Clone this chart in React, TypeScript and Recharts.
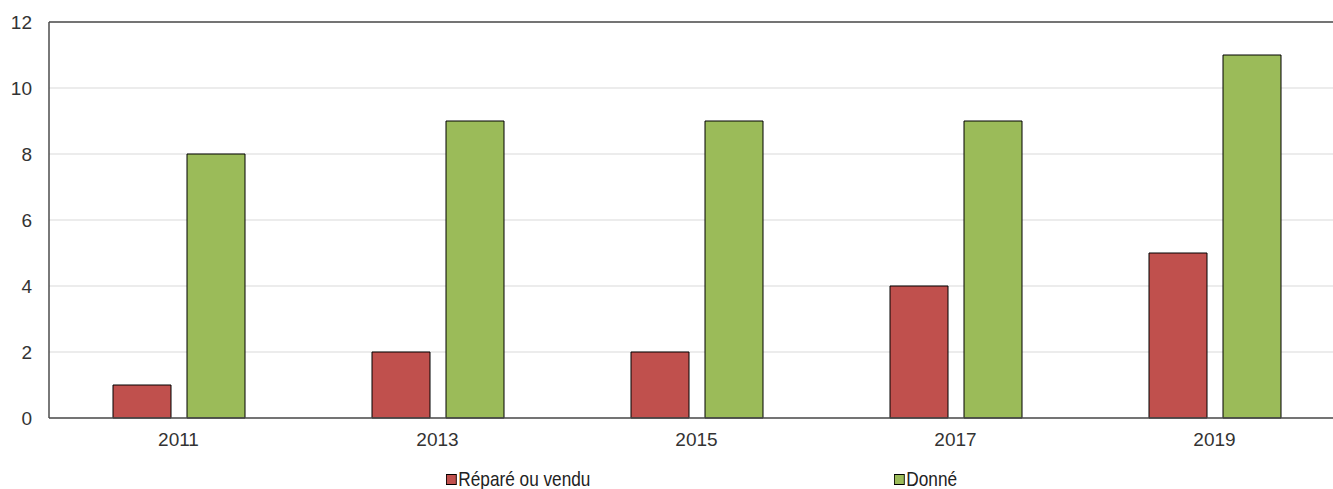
import React from 'react';
import { BarChart, Bar, XAxis, YAxis, CartesianGrid, ReferenceLine } from 'recharts';

const categories = ['2011', '2013', '2015', '2017', '2019'];
const repareOuVendu = [1, 2, 2, 4, 5];
const donne = [8, 9, 9, 9, 11];
const yTicks = [0, 2, 4, 6, 8, 10, 12];
const seriesNames = ['Réparé ou vendu', 'Donné'];
const seriesColors = ['#C0504D', '#9BBB59'];

const data = categories.map((c, i) => ({ year: c, a: repareOuVendu[i], b: donne[i] }));

const AXIS = '#4d4d4d';
const FONT = '"Liberation Sans", Arial, sans-serif';

export default function App() {
  return (
    <div style={{ position: 'absolute', left: 0, top: 0, width: 1333, height: 489, background: '#fff', overflow: 'hidden' }}>
      <BarChart
        width={1344}
        height={489}
        data={data}
        margin={{ top: 22, right: 0, left: 0, bottom: 0 }}
        barSize={58}
        barGap={16}
      >
        <CartesianGrid vertical={false} stroke="#d9d9d9" strokeWidth={1} />
        <XAxis
          dataKey="year"
          height={71}
          axisLine={{ stroke: AXIS, strokeWidth: 1.5 }}
          tickLine={false}
          tick={{ fill: '#333', fontSize: 19, fontFamily: FONT, dy: 7 }}
          interval={0}
        />
        <YAxis
          width={49}
          domain={[0, 12]}
          ticks={yTicks}
          axisLine={{ stroke: AXIS, strokeWidth: 1.5 }}
          tickLine={false}
          tickMargin={11}
          tick={{ fill: '#333', fontSize: 19, fontFamily: FONT }}
          interval={0}
        />
        <ReferenceLine y={12} stroke={AXIS} strokeWidth={1.5} />
        <Bar dataKey="a" name={seriesNames[0]} fill={seriesColors[0]} stroke="#000" strokeWidth={1} isAnimationActive={false} />
        <Bar dataKey="b" name={seriesNames[1]} fill={seriesColors[1]} stroke="#000" strokeWidth={1} isAnimationActive={false} />
      </BarChart>
      {[446, 894].map((x, i) => (
        <div
          key={seriesNames[i]}
          style={{
            position: 'absolute',
            left: x,
            top: 468,
            height: 22,
            display: 'flex',
            alignItems: 'center',
            fontFamily: FONT,
            fontSize: 21,
            color: '#222',
            whiteSpace: 'nowrap',
            transform: 'scaleX(0.82)',
            transformOrigin: 'left center',
          }}
        >
          <span
            style={{
              display: 'inline-block',
              width: 11,
              height: 9,
              background: seriesColors[i],
              border: '1px solid #000',
              marginRight: 2,
            }}
          />
          <span>{seriesNames[i]}</span>
        </div>
      ))}
    </div>
  );
}
